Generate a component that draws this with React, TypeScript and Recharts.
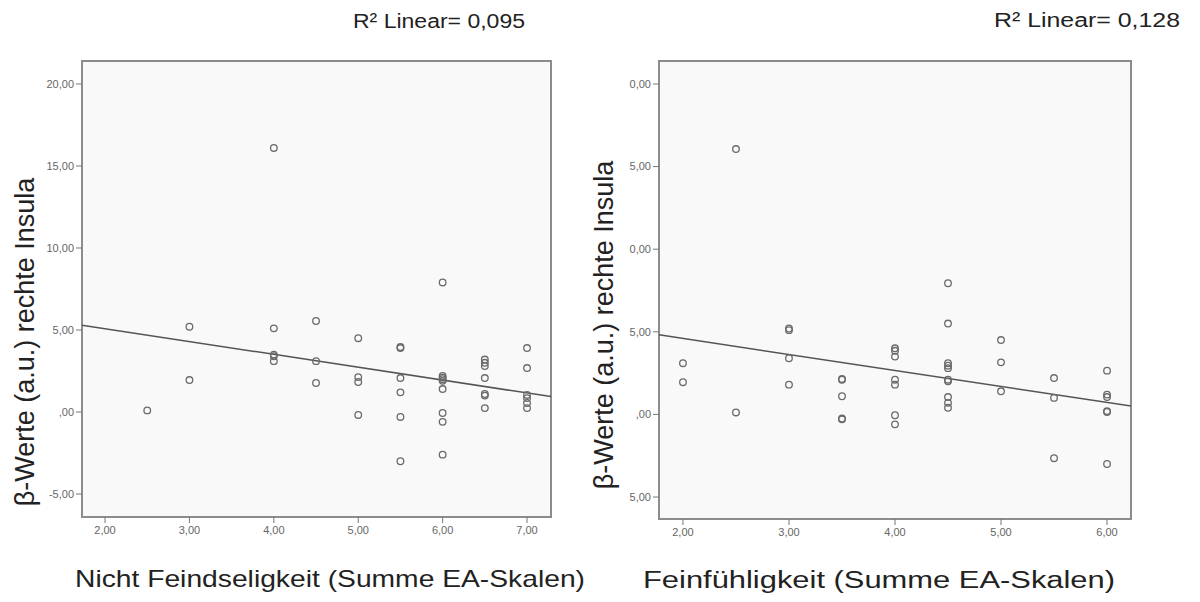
import React from 'react';
import { ScatterChart, Scatter, XAxis, YAxis, ReferenceArea, ReferenceLine } from 'recharts';

// linke Grafik: Nicht Feindseligkeit
const leftX = [
  2.5, 3, 3, 4, 4, 4, 4, 4, 4.5, 4.5, 4.5, 5, 5, 5, 5,
  5.5, 5.5, 5.5, 5.5, 5.5, 5.5, 6, 6, 6, 6, 6, 6, 6, 6, 6,
  6.5, 6.5, 6.5, 6.5, 6.5, 6.5, 6.5, 7, 7, 7, 7, 7, 7,
];
const leftY = [
  0.1, 5.2, 1.95, 16.1, 5.1, 3.5, 3.4, 3.1, 5.55, 3.1, 1.77, 4.5, 2.13, 1.83, -0.18,
  3.96, 3.9, 2.07, 1.2, -0.3, -3.0, 7.9, 2.2, 2.1, 2.0, 1.9, 1.4, -0.06, -0.6, -2.6,
  3.2, 3.0, 2.8, 2.07, 1.1, 1.0, 0.24, 3.9, 2.68, 1.04, 0.85, 0.55, 0.24,
];
const leftXTicks = [2, 3, 4, 5, 6, 7];
const leftYTicks = [-5, 0, 5, 10, 15, 20];
const leftYTickLabels = ['-5,00', ',00', '5,00', '10,00', '15,00', '20,00'];
const leftFit = [6.65, -0.784]; // Achsenabschnitt, Steigung

// rechte Grafik: Feinfühligkeit
const rightX = [
  2, 2, 2.5, 2.5, 3, 3, 3, 3, 3.5, 3.5, 3.5, 3.5, 3.5,
  4, 4, 4, 4, 4, 4, 4, 4.5, 4.5, 4.5, 4.5, 4.5, 4.5, 4.5, 4.5, 4.5, 4.5,
  5, 5, 5, 5.5, 5.5, 5.5, 6, 6, 6, 6, 6, 6,
];
const rightY = [
  3.1, 1.95, 16.06, 0.12, 5.2, 5.1, 3.4, 1.8, 2.15, 2.1, 1.1, -0.25, -0.3,
  4.0, 3.85, 3.5, 2.1, 1.8, -0.05, -0.6, 7.94, 5.5, 3.1, 2.95, 2.8, 2.1, 2.0, 1.05, 0.7, 0.4,
  4.5, 3.15, 1.4, 2.2, 1.0, -2.65, 2.65, 1.2, 1.05, 0.2, 0.15, -3.0,
];
const rightXTicks = [2, 3, 4, 5, 6];
const rightYTicks = [-5, 0, 5, 10, 15, 20];
// im Original links abgeschnitten
const rightYTickLabels = ['5,00', ',00', '5,00', '0,00', '5,00', '0,00'];
const rightFit = [6.53, -0.967];

const fmt = (v: number) => v.toFixed(2).replace('.', ',');
const FONT = '"Liberation Sans", Arial, sans-serif';

const Ring = (props: any) => (
  <circle cx={props.cx} cy={props.cy} r={3.3} fill="none" stroke="#6a6a6a" strokeWidth={1.3} />
);

interface PanelProps {
  xs: number[];
  ys: number[];
  xTicks: number[];
  yTicks: number[];
  yLabels: string[];
  fit: number[];
  xDomain: [number, number];
  yDomain: [number, number];
  margin: { top: number; right: number; bottom: number; left: number };
}

const Panel: React.FC<PanelProps> = ({ xs, ys, xTicks, yTicks, yLabels, fit, xDomain, yDomain, margin }) => {
  const points = xs.map((x, i) => ({ x, y: ys[i] }));
  const lineAt = (x: number) => fit[0] + fit[1] * x;
  const tickStyle = { fontSize: 11, fill: '#666', fontFamily: FONT };
  return (
    <ScatterChart width={600} height={602} margin={margin}>
      <XAxis
        type="number"
        dataKey="x"
        domain={xDomain}
        ticks={xTicks}
        allowDataOverflow
        height={30}
        axisLine={false}
        tickLine={{ stroke: '#777' }}
        tickSize={6}
        tickMargin={3}
        tick={tickStyle}
        tickFormatter={fmt}
      />
      <YAxis
        type="number"
        dataKey="y"
        domain={yDomain}
        ticks={yTicks}
        allowDataOverflow
        width={40}
        axisLine={false}
        tickLine={{ stroke: '#777' }}
        tickSize={6}
        tickMargin={2}
        tick={tickStyle}
        tickFormatter={(v: number) => yLabels[yTicks.indexOf(v)] ?? fmt(v)}
      />
      <ReferenceArea
        x1={xDomain[0]}
        x2={xDomain[1]}
        y1={yDomain[0]}
        y2={yDomain[1]}
        fill="#f9f9f9"
        fillOpacity={1}
        stroke="#8c8c8c"
        strokeWidth={2}
      />
      <ReferenceLine
        segment={[
          { x: xDomain[0], y: lineAt(xDomain[0]) },
          { x: xDomain[1], y: lineAt(xDomain[1]) },
        ]}
        stroke="#555"
        strokeWidth={1.5}
      />
      <Scatter data={points} shape={Ring} isAnimationActive={false} />
    </ScatterChart>
  );
};

export default function App() {
  const yTitle = 'β-Werte (a.u.) rechte Insula';
  return (
    <div style={{ position: 'absolute', left: 0, top: 0, width: 1200, height: 602, background: '#fff', fontFamily: FONT }}>
      <div style={{ position: 'absolute', left: 0, top: 0 }}>
        <Panel
          xs={leftX}
          ys={leftY}
          xTicks={leftXTicks}
          yTicks={leftYTicks}
          yLabels={leftYTickLabels}
          fit={leftFit}
          xDomain={[1.727, 7.284]}
          yDomain={[-6.4, 21.4]}
          margin={{ top: 61, right: 49, bottom: 55, left: 42 }}
        />
      </div>
      <div style={{ position: 'absolute', left: 600, top: 0 }}>
        <Panel
          xs={rightX}
          ys={rightY}
          xTicks={rightXTicks}
          yTicks={rightYTicks}
          yLabels={rightYTickLabels}
          fit={rightFit}
          xDomain={[1.774, 6.226]}
          yDomain={[-6.33, 21.39]}
          margin={{ top: 61, right: 69, bottom: 53, left: 19 }}
        />
      </div>
      <svg width={1200} height={602} style={{ position: 'absolute', left: 0, top: 0, pointerEvents: 'none' }}>
        <g fontFamily={FONT} fill="#222">
          <text x={353} y={28} fontSize={20} textLength={172} lengthAdjust="spacingAndGlyphs">R² Linear= 0,095</text>
          <text x={994} y={27} fontSize={20} textLength={186} lengthAdjust="spacingAndGlyphs">R² Linear= 0,128</text>
          <text x={75} y={587} fontSize={24} textLength={510} lengthAdjust="spacingAndGlyphs">Nicht Feindseligkeit (Summe EA-Skalen)</text>
          <text x={643} y={588} fontSize={23} textLength={472} lengthAdjust="spacingAndGlyphs">Feinfühligkeit (Summe EA-Skalen)</text>
          <text x={0} y={0} fontSize={27} textAnchor="middle" transform="translate(34 342) rotate(-90)">{yTitle}</text>
          <text x={0} y={0} fontSize={27} textAnchor="middle" transform="translate(613 325) rotate(-90)">{yTitle}</text>
        </g>
      </svg>
    </div>
  );
}
